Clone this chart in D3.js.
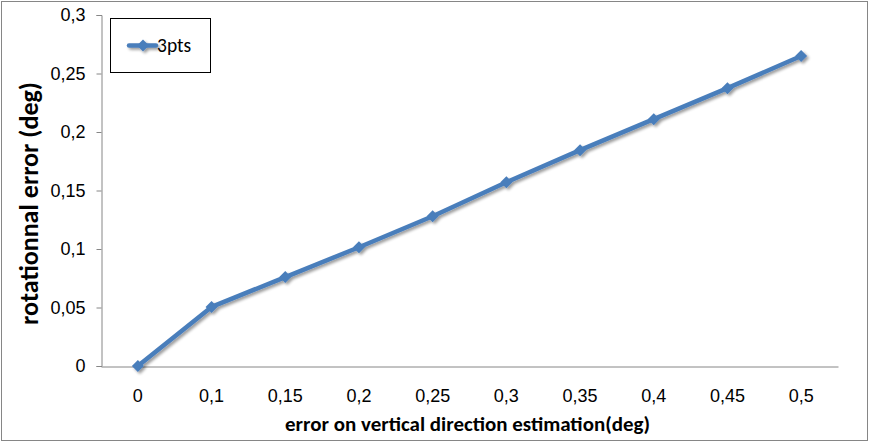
<!DOCTYPE html>
<html><head><meta charset="utf-8">
<script src="https://cdn.jsdelivr.net/npm/d3@7"></script>
<style>body{margin:0;background:#fff;} svg{display:block;font-family:Calibri,Carlito,"Open Sans","Liberation Sans",sans-serif;}</style>
</head><body>
<svg id="c" width="869" height="442"></svg>
<script>
const categories = ["0","0,1","0,15","0,2","0,25","0,3","0,35","0,4","0,45","0,5"];
const values = [0, 0.0505, 0.076, 0.1015, 0.128, 0.157, 0.1845, 0.211, 0.2375, 0.265];
const yTicks = [0, 0.05, 0.1, 0.15, 0.2, 0.25, 0.3];
const yTickLabels = ["0","0,05","0,1","0,15","0,2","0,25","0,3"];
const seriesName = "3pts";
const xTitle = "error on vertical direction estimation(deg)";
const yTitle = "rotationnal error (deg)";

const svg = d3.select("#c");
svg.append("rect").attr("x",1.5).attr("y",1.5).attr("width",866).attr("height",439)
  .attr("fill","#fff").attr("stroke","#868686").attr("stroke-width",1);

const L=101, R=838, T=15, B=366;
const x = d3.scaleBand().domain(categories).range([L,R]);
const y = d3.scaleLinear().domain([0,0.3]).range([B,T]);

const defs = svg.append("defs");
const f = defs.append("filter").attr("id","sh").attr("x","-50%").attr("y","-50%").attr("width","200%").attr("height","200%");
f.append("feGaussianBlur").attr("in","SourceAlpha").attr("stdDeviation",1.5).attr("result","b");
f.append("feOffset").attr("in","b").attr("dx",1.5).attr("dy",1.5).attr("result","o");
f.append("feComponentTransfer").attr("in","o").attr("result","o2").append("feFuncA").attr("type","linear").attr("slope",0.4);
const m = f.append("feMerge"); m.append("feMergeNode").attr("in","o2"); m.append("feMergeNode").attr("in","SourceGraphic");

// y axis
const yAxis = d3.axisLeft(y).tickValues(yTicks).tickFormat((d,i)=>yTickLabels[i]).tickSize(5).tickPadding(11);
const gy = svg.append("g").attr("transform",`translate(${L+0.5},0)`).call(yAxis);
gy.select(".domain").attr("stroke","#868686");
gy.selectAll(".tick line").attr("stroke","#868686");
gy.selectAll(".tick text").attr("font-size",18).attr("fill","#000");

// x axis
const xAxis = d3.axisBottom(x).tickSize(0).tickPadding(23);
const gx = svg.append("g").attr("transform",`translate(0,${B+0.5})`).call(xAxis);
gx.select(".domain").attr("stroke","#868686");
gx.selectAll(".tick text").attr("font-size",18).attr("fill","#000");

// titles (sized to the reference's measured text extents)
function fit(sel, target){
  const l = sel.node().getComputedTextLength();
  const fs = parseFloat(sel.attr("font-size"));
  sel.attr("font-size", (fs*target/l).toFixed(2));
}
const xt = svg.append("text").attr("x",467.5).attr("y",431).attr("text-anchor","middle")
  .attr("font-size",21).attr("font-weight","bold").text(xTitle);
fit(xt, 365);
const yt = svg.append("text").attr("transform",`translate(38,203.5) rotate(-90)`).attr("text-anchor","middle")
  .attr("font-size",19).attr("font-weight","bold").text(yTitle);
fit(yt, 243);

const color = "#4a7ebb";
const line = d3.line().x((d,i)=>x(categories[i])+x.bandwidth()/2).y(d=>y(d));
const g = svg.append("g").attr("filter","url(#sh)");
g.append("path").datum(values).attr("d",line).attr("fill","none").attr("stroke",color).attr("stroke-width",4.5).attr("stroke-linejoin","round");
const diamond = "M0,-6L6,0L0,6L-6,0Z";
g.selectAll(".pt").data(values).join("path")
  .attr("transform",(d,i)=>`translate(${x(categories[i])+x.bandwidth()/2},${y(d)})`)
  .attr("d",diamond).attr("fill",color);

// legend
const lg = svg.append("g");
lg.append("rect").attr("x",110.5).attr("y",18.5).attr("width",100).attr("height",54).attr("fill","#fff").attr("stroke","#000").attr("stroke-width",1);
const lgl = lg.append("g").attr("filter","url(#sh)");
lgl.append("line").attr("x1",129).attr("x2",156).attr("y1",45.5).attr("y2",45.5).attr("stroke",color).attr("stroke-width",4.5).attr("stroke-linecap","round");
lgl.append("path").attr("transform","translate(143,45.5)").attr("d",diamond).attr("fill",color);
lg.append("text").attr("x",157).attr("y",52).attr("font-size",19.5).text(seriesName);
</script>
</body></html>
